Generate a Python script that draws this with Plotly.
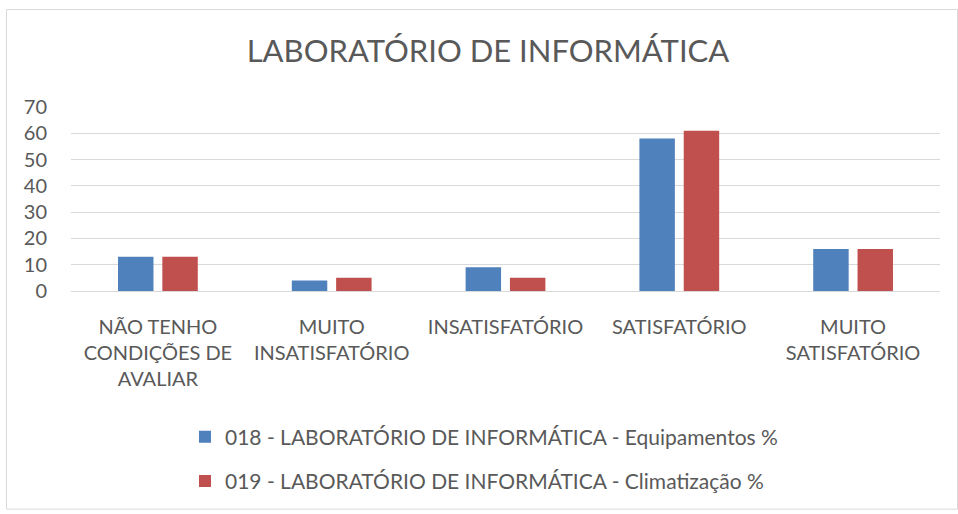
import plotly.graph_objects as go

categories = ["NÃO TENHO<br>CONDIÇÕES DE<br>AVALIAR", "MUITO<br>INSATISFATÓRIO",
              "INSATISFATÓRIO", "SATISFATÓRIO", "MUITO<br>SATISFATÓRIO"]
equipamentos = [13, 4, 9, 58, 16]
climatizacao = [13, 5, 5, 61, 16]
series_names = ["018 - LABORATÓRIO DE INFORMÁTICA - Equipamentos %",
                "019 - LABORATÓRIO DE INFORMÁTICA - Climatização %"]
colors = ["#4F81BD", "#C0504D"]
FONT = "Lato"

fig = go.Figure()
for name, vals, col, grp in zip(series_names, [equipamentos, climatizacao], colors, ["a", "b"]):
    fig.add_trace(go.Bar(x=categories, y=vals, name=name, marker_color=col,
                         marker_line_width=0, legendgroup=grp))

W, H = 958, 514
L, R, T, B = 71, 18, 107, 221
pw, ph = W - L - R, H - T - B

def px_x(x):
    return (x - L) / pw

def px_y(y):
    return (H - B - y) / ph

fig.add_shape(type="rect", xref="paper", yref="paper",
              x0=px_x(6.5), x1=px_x(957.5), y0=px_y(513.5), y1=px_y(8.5),
              line=dict(color="#D9D9D9", width=1), fillcolor="rgba(0,0,0,0)", layer="below")

fig.update_layout(
    width=W, height=H,
    margin=dict(l=L, r=R, t=T, b=B, pad=0),
    paper_bgcolor="white", plot_bgcolor="white",
    font=dict(family=FONT, color="#595959", size=20),
    title=dict(text="LABORATÓRIO DE INFORMÁTICA", x=488 / W, xref="container", xanchor="center",
               y=1 - 51 / H, yanchor="middle", font=dict(size=31, color="#595959", family=FONT)),
    barmode="group", bargap=0.49, bargroupgap=0.2,
    showlegend=True,
    legend=dict(orientation="v", x=px_x(185), xanchor="left", y=px_y(420), yanchor="top",
                font=dict(size=21, color="#595959", family=FONT), tracegroupgap=14,
                itemwidth=30, bgcolor="rgba(0,0,0,0)"),
    xaxis=dict(showgrid=False, showline=False, ticks="outside", ticklen=18,
               tickcolor="rgba(0,0,0,0)", tickfont=dict(size=20, color="#595959")),
    yaxis=dict(range=[0, 70], dtick=10, showgrid=True, gridcolor="#D9D9D9", gridwidth=1,
               zeroline=True, zerolinecolor="#D9D9D9", zerolinewidth=1, showline=False,
               ticks="outside", ticklen=19, tickcolor="rgba(0,0,0,0)",
               tickfont=dict(size=20, color="#595959")),
)

fig.write_html("out.html", config={"displayModeBar": False},
               post_script="document.body.style.margin='0';")
